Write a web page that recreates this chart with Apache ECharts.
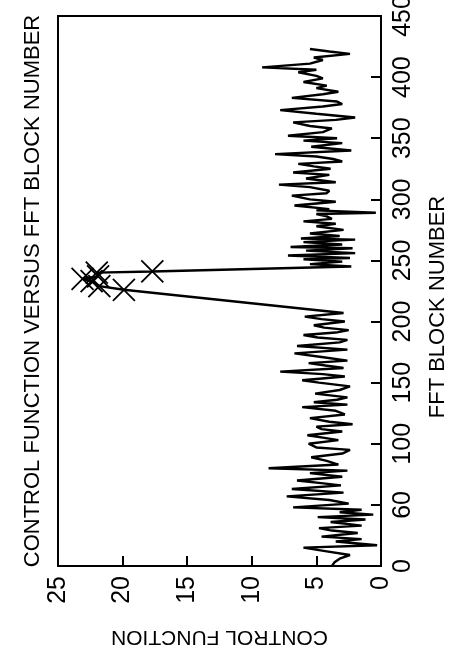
<!DOCTYPE html>
<html>
<head>
<meta charset="utf-8">
<script src="https://cdn.jsdelivr.net/npm/echarts@6/dist/echarts.min.js"></script>
<style>
  html, body { margin: 0; padding: 0; background: #fff; }
  #main { width: 455px; height: 662px; }
</style>
</head>
<body>
<div id="main"></div>
<script>
// FFT block number (vertical axis in the rotated figure)
var fftBlock = [
  0, 3, 6, 9, 12, 15, 17, 20, 22, 24, 27, 29, 31, 33, 36, 38, 40, 42, 44, 46,
  48, 51, 54, 57, 60, 63, 66, 68, 70, 73, 76, 78, 80, 83, 86, 89, 92, 95, 97, 100,
  103, 105, 107, 110, 112, 114, 116, 118, 121, 124, 127, 130, 132, 134, 136, 138, 141, 144, 147, 150,
  152, 155, 157, 159, 162, 164, 166, 168, 171, 174, 177, 180, 183, 185, 187, 189, 191, 193, 195, 197,
  200, 202, 204, 207, 226, 229, 233, 235, 237, 240, 241, 245, 247, 249, 251, 252, 254, 256, 258, 260,
  261, 263, 265, 267, 268, 270, 272, 275, 278, 280, 282, 284, 286, 288, 289, 291, 292, 295, 298, 300,
  303, 305, 307, 310, 312, 314, 317, 320, 322, 325, 327, 329, 331, 333, 335, 337, 340, 343, 346, 348,
  350, 352, 355, 358, 360, 363, 365, 367, 370, 373, 376, 378, 380, 383, 386, 388, 391, 393, 396, 399,
  401, 404, 406, 408, 411, 414, 416, 419, 421, 423
];
// control function value at each block
var controlFn = [
  3.8, 3.6, 3.2, 2.4, 4.2, 6.0, 0.3, 3.5, 1.5, 4.6, 1.8, 3.8, 4.8, 1.5, 3.9, 1.2, 4.9, 0.6, 3.2, 1.5,
  6.8, 2.5, 4.0, 7.3, 2.9, 6.9, 3.1, 4.8, 6.5, 3.0, 5.5, 2.6, 8.7, 3.3, 4.2, 5.4, 3.0, 2.4, 5.0, 5.6,
  3.3, 4.5, 5.7, 3.0, 4.6, 5.0, 2.2, 4.0, 5.5, 2.8, 3.5, 6.1, 2.6, 5.2, 3.4, 2.6, 5.1, 3.2, 2.4, 4.8,
  6.1, 2.8, 4.5, 7.8, 2.9, 4.3, 5.6, 2.6, 4.6, 6.7, 2.6, 6.5, 3.2, 2.6, 4.9, 6.0, 3.5, 2.5, 4.4, 5.2,
  2.8, 4.6, 5.9, 2.9, 19.9, 21.8, 22.4, 23.1, 21.9, 22.0, 17.7, 2.3, 5.5, 3.0, 6.0, 2.4, 7.2, 2.0, 5.8, 2.2,
  7.0, 3.0, 6.0, 2.0, 6.2, 3.2, 5.5, 2.9, 5.0, 3.5, 6.0, 3.8, 4.2, 5.0, 0.4, 5.0, 4.0, 6.7, 3.5, 5.5,
  6.9, 4.2, 4.0, 5.5, 7.9, 3.5, 5.8, 4.0, 6.8, 3.9, 5.2, 6.4, 3.0, 3.7, 5.0, 8.2, 2.3, 5.4, 3.0, 6.0,
  3.4, 7.2, 4.5, 3.8, 5.5, 6.8, 3.5, 2.0, 5.0, 7.8, 4.5, 3.0, 3.4, 6.9, 4.5, 3.3, 5.0, 4.2, 6.0, 4.5,
  5.0, 6.4, 5.0, 9.2, 5.5, 4.5, 5.2, 2.4, 4.0, 5.5
];
var blockTicks = ['0', '60', '100', '150', '200', '250', '300', '350', '400', '450'];
var controlTicks = ['0', '5', '10', '15', '20', '25'];
var markThreshold = 15;

var FONT = "'Liberation Sans', Arial, sans-serif";

var lineData = [];
var markData = [];
for (var i = 0; i < fftBlock.length; i++) {
  lineData.push([controlFn[i], fftBlock[i]]);
  if (controlFn[i] > markThreshold) markData.push([controlFn[i], fftBlock[i]]);
}

var chart = echarts.init(document.getElementById('main'));
chart.setOption({
  animation: false,
  backgroundColor: '#fff',
  grid: {
    left: 58, top: 16, right: 74, bottom: 96,
    outerBoundsMode: 'none',
    show: true, borderColor: '#000', borderWidth: 2, backgroundColor: 'transparent'
  },
  xAxis: {
    type: 'value', min: 0, max: 25, interval: 5, inverse: true, position: 'bottom',
    name: 'CONTROL FUNCTION', nameLocation: 'middle', nameGap: 60, nameRotate: 180,
    nameTextStyle: { color: '#000', fontSize: 21, fontFamily: FONT },
    splitLine: { show: false },
    axisLine: { lineStyle: { color: '#000', width: 2 } },
    axisTick: { inside: true, length: 10, lineStyle: { color: '#000', width: 2 } },
    axisLabel: {
      rotate: 90, margin: 10, color: '#000', fontSize: 25, fontFamily: FONT,
      formatter: function (v) { return controlTicks[Math.round(v / 5)]; }
    }
  },
  yAxis: {
    type: 'value', min: 0, max: 450, interval: 50, position: 'right',
    splitLine: { show: false },
    axisLine: { show: true, lineStyle: { color: '#000', width: 2 } },
    axisTick: { show: true, inside: true, length: 10, lineStyle: { color: '#000', width: 2 } },
    axisLabel: {
      rotate: 90, margin: 10, color: '#000', fontSize: 25, fontFamily: FONT,
      formatter: function (v) { return blockTicks[Math.round(v / 50)]; }
    }
  },
  graphic: [{
    type: 'text', x: 33, y: 291, rotation: Math.PI / 2,
    style: {
      text: 'CONTROL FUNCTION VERSUS FFT BLOCK NUMBER',
      fill: '#000', font: '22px ' + FONT, align: 'center', verticalAlign: 'middle'
    }
  }, {
    type: 'text', x: 438, y: 307, rotation: Math.PI / 2,
    style: {
      text: 'FFT BLOCK NUMBER',
      fill: '#000', font: '22px ' + FONT, align: 'center', verticalAlign: 'middle'
    }
  }],
  series: [{
    type: 'line',
    data: lineData,
    symbol: 'none',
    lineStyle: { color: '#000', width: 2.4 },
    z: 2
  }, {
    type: 'scatter',
    data: markData,
    symbol: 'path://M0,0L20,20M20,0L0,20',
    symbolSize: 22,
    itemStyle: { color: 'transparent', borderColor: '#000', borderWidth: 1.8, opacity: 1 },
    z: 3
  }]
});
</script>
</body>
</html>
